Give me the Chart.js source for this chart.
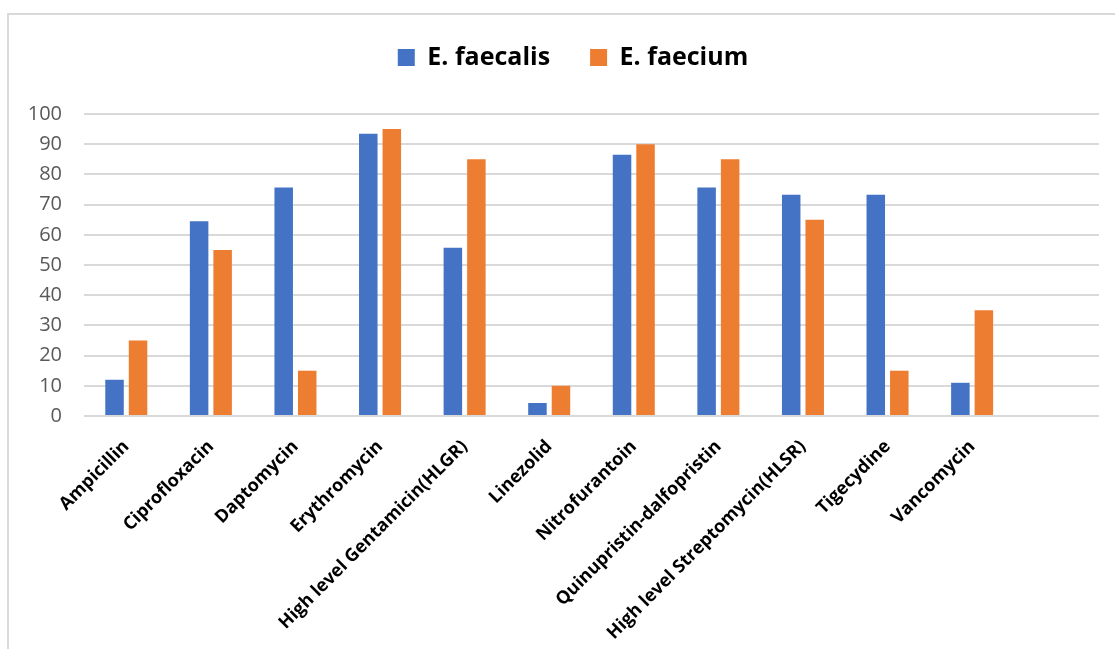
<!DOCTYPE html>
<html>
<head>
<meta charset="utf-8">
<script src="https://cdn.jsdelivr.net/npm/chart.js@4.4.1/dist/chart.umd.min.js"></script>
<style>
  html, body { margin: 0; padding: 0; background: #ffffff; }
  #wrap { position: relative; width: 1115px; height: 649px; overflow: hidden; background: #ffffff; }
  #frame { position: absolute; left: 7px; top: 13px; width: 1200px; height: 700px;
           border-left: 2px solid #d9d9d9; border-top: 2px solid #d9d9d9; box-sizing: border-box; }
  #c { position: absolute; left: 0; top: 0; }
</style>
</head>
<body>
<div id="wrap">
  <div id="frame"></div>
  <canvas id="c" width="1115" height="649"></canvas>
</div>
<script>
// Antibiotics tested (the last slot is left empty on the axis)
const antibiotics = [
  'Ampicillin', 'Ciprofloxacin', 'Daptomycin', 'Erythromycin',
  'High level Gentamicin(HLGR)', 'Linezolid', 'Nitrofurantoin',
  'Quinupristin-dalfopristin', 'High level Streptomycin(HLSR)',
  'Tigecydine', 'Vancomycin', ''
];

// Resistance (%) per species
const faecalis = [12, 64.5, 75.7, 93.5, 55.7, 4.3, 86.5, 75.7, 73.3, 73.3, 11];
const faecium  = [25, 55, 15, 95, 85, 10, 90, 85, 65, 15, 35];

const seriesNames = ['E. faecalis', 'E. faecium'];
const yMin = 0, yMax = 100, yStep = 10;

// Extra room under the legend row, and the legend row nudged to sit over the plot
const legendPlacement = {
  id: 'legendPlacement',
  beforeInit(chart) {
    const baseFit = chart.legend.fit;
    chart.legend.fit = function () {
      baseFit.call(this);
      this.height += 34;
    };
  },
  afterLayout(chart) {
    chart.legend.left += 47;
  }
};

new Chart(document.getElementById('c'), {
  type: 'bar',
  data: {
    labels: antibiotics,
    datasets: [
      {
        label: seriesNames[0],
        data: faecalis,
        backgroundColor: '#4472C4',
        categoryPercentage: 0.556,
        barPercentage: 0.787
      },
      {
        label: seriesNames[1],
        data: faecium,
        backgroundColor: '#ED7D31',
        categoryPercentage: 0.556,
        barPercentage: 0.787
      }
    ]
  },
  options: {
    responsive: false,
    devicePixelRatio: 1,
    animation: false,
    layout: { padding: { left: 0, right: 16, top: 5, bottom: 0 } },
    plugins: {
      legend: {
        position: 'top',
        align: 'center',
        labels: {
          boxWidth: 17,
          boxHeight: 17,
          padding: 40,
          color: '#000000',
          font: { family: 'Open Sans', weight: 'bold', size: 25 }
        }
      },
      tooltip: { enabled: false }
    },
    scales: {
      x: {
        grid: { display: false, drawTicks: false },
        border: { display: false },
        ticks: {
          autoSkip: false,
          minRotation: 45,
          maxRotation: 45,
          padding: 20,
          color: '#000000',
          font: { family: 'Open Sans', weight: 'bold', size: 18 }
        },
        afterFit(scale) { scale.height = 233; }
      },
      y: {
        min: yMin,
        max: yMax,
        grid: { color: '#d9d9d9', lineWidth: 2, drawTicks: false },
        border: { display: false },
        ticks: {
          stepSize: yStep,
          padding: 22,
          color: '#595959',
          font: { family: 'Open Sans', size: 20 }
        },
        afterFit(scale) { scale.width = 84; }
      }
    }
  },
  plugins: [legendPlacement]
});
</script>
</body>
</html>
